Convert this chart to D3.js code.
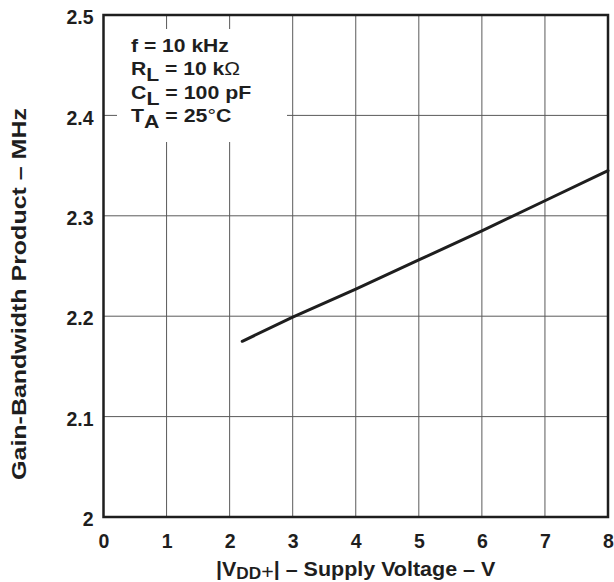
<!DOCTYPE html>
<html><head><meta charset="utf-8">
<script src="https://cdn.jsdelivr.net/npm/d3@7"></script>
<style>html,body{margin:0;padding:0;background:#fff;}svg{display:block;font-family:"Liberation Sans",Arial,sans-serif;font-weight:bold;}</style>
</head><body>
<script>
const voltage = [2.2, 3, 4, 5, 6, 7, 8];
const gbw = [2.175, 2.199, 2.227, 2.256, 2.285, 2.315, 2.345];
const xTicks = [0, 1, 2, 3, 4, 5, 6, 7, 8];
const yTicks = [2, 2.1, 2.2, 2.3, 2.4, 2.5];
const yTickLabels = ["2", "2.1", "2.2", "2.3", "2.4", "2.5"];

const W = 614, H = 582;
const m = {left: 103.5, right: 608, top: 15, bottom: 517};
const svg = d3.select("body").append("svg").attr("width", W).attr("height", H);
const x = d3.scaleLinear().domain([0, 8]).range([m.left, m.right]);
const y = d3.scaleLinear().domain([2, 2.5]).range([m.bottom, m.top]);
const ink = "#1e1e1e";

// stretch a text horizontally so its width matches target
function fit(t, target, tx, ty, rot) {
  const w = t.node().getBBox().width;
  const s = target / w;
  t.attr("transform", `translate(${tx},${ty})` + (rot ? ` rotate(${rot})` : "") + ` scale(${s},1)`);
}

// grid
const g = svg.append("g");
g.selectAll(".vg").data(xTicks.slice(1, -1)).join("line")
  .attr("x1", d => x(d)).attr("x2", d => x(d)).attr("y1", m.top).attr("y2", m.bottom)
  .attr("stroke", "#5a5a5a").attr("stroke-width", 1);
g.selectAll(".hg").data(yTicks.slice(1, -1)).join("line")
  .attr("x1", m.left).attr("x2", m.right).attr("y1", d => y(d)).attr("y2", d => y(d))
  .attr("stroke", "#5a5a5a").attr("stroke-width", 1);

// annotation box background
svg.append("rect").attr("x", 117).attr("y", 29).attr("width", 170).attr("height", 113).attr("fill", "#fff");

// data line
svg.append("path").datum(voltage.map((v, i) => [v, gbw[i]]))
  .attr("d", d3.line().x(d => x(d[0])).y(d => y(d[1])))
  .attr("fill", "none").attr("stroke", ink).attr("stroke-width", 3).attr("stroke-linecap", "round");

// frame
svg.append("rect").attr("x", m.left).attr("y", m.top).attr("width", m.right - m.left).attr("height", m.bottom - m.top)
  .attr("fill", "none").attr("stroke", ink).attr("stroke-width", 2.5);

// axes tick labels via d3 axis
const xa = svg.append("g").attr("transform", `translate(0,${m.bottom})`)
  .call(d3.axisBottom(x).tickValues(xTicks).tickSize(0).tickPadding(17).tickFormat(d3.format("d")));
xa.select(".domain").remove();
xa.selectAll("text").attr("font-size", 19.5).attr("font-family", "Liberation Sans, Arial, sans-serif").attr("font-weight", "bold").attr("fill", ink);

const ya = svg.append("g").attr("transform", `translate(${m.left},0)`)
  .call(d3.axisLeft(y).tickValues(yTicks).tickSize(0).tickPadding(10).tickFormat((d, i) => yTickLabels[i]));
ya.select(".domain").remove();
ya.selectAll("text").attr("font-size", 19.5).attr("font-family", "Liberation Sans, Arial, sans-serif").attr("font-weight", "bold").attr("fill", ink).attr("dy", "0.45em");

// x axis title
const xt = svg.append("text").attr("x", 0).attr("y", 0).attr("text-anchor", "start")
  .attr("font-size", 20).attr("fill", ink);
xt.append("tspan").text("|V");
xt.append("tspan").attr("dy", 3).attr("font-size", 16).text("DD");
xt.append("tspan").attr("font-weight", "normal").text("+");
xt.append("tspan").attr("dy", -3).text("| – Supply Voltage – V");
fit(xt, 280, 216, 576);

// y axis title
const yt = svg.append("text").attr("x", 0).attr("y", 0).attr("text-anchor", "middle")
  .attr("font-size", 20).attr("fill", ink)
  .text("Gain-Bandwidth Product – MHz");
fit(yt, 372, 26, 294, -90);

// annotation
const ann = [
  [["f = 10 kHz", 0]],
  [["R", 0], ["L", 1], [" = 10 k", 0], ["Ω", 2]],
  [["C", 0], ["L", 1], [" = 100 pF", 0]],
  [["T", 0], ["A", 1], [" = 25", 0], ["°", 2], ["C", 0]]
];
const baselines = [51.7, 75, 99, 122];
const widths = [98, 109, 120, 98];
ann.forEach((parts, i) => {
  const t = svg.append("text").attr("x", 0).attr("y", 0).attr("font-size", 18.5).attr("fill", ink);
  let prevSub = false;
  parts.forEach(([s, k]) => {
    const ts = t.append("tspan").text(s);
    if (k === 1) { ts.attr("dy", 6); prevSub = true; }
    else {
      if (prevSub) { ts.attr("dy", -6); prevSub = false; }
      if (k === 2) ts.attr("font-weight", "normal");
    }
  });
  fit(t, widths[i], 131, baselines[i]);
});
</script>
</body></html>
